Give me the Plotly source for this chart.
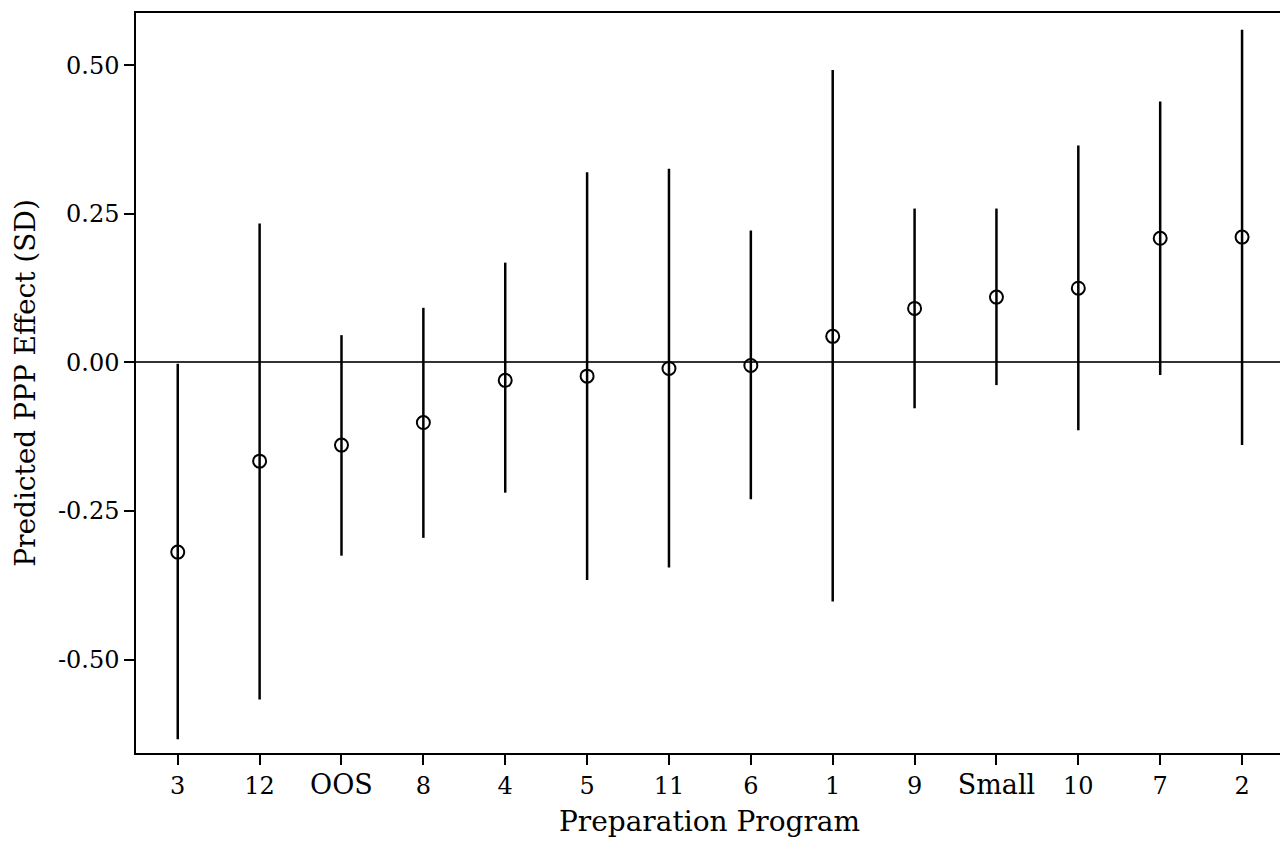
import plotly.graph_objects as go

programs = ["3", "12", "OOS", "8", "4", "5", "11", "6", "1", "9", "Small", "10", "7", "2"]
estimate = [-0.319, -0.166, -0.139, -0.101, -0.030, -0.023, -0.010, -0.005, 0.044, 0.091, 0.110, 0.125, 0.209, 0.211]
ci_low = [-0.634, -0.567, -0.325, -0.295, -0.219, -0.366, -0.345, -0.230, -0.402, -0.077, -0.038, -0.114, -0.021, -0.139]
ci_high = [-0.002, 0.234, 0.046, 0.092, 0.168, 0.320, 0.326, 0.222, 0.492, 0.259, 0.259, 0.365, 0.439, 0.560]

y_ticks = [-0.50, -0.25, 0.00, 0.25, 0.50]
y_ticklabels = ["-0.50", "-0.25", "0.00", "0.25", "0.50"]

x_idx = list(range(len(programs)))
err_plus = [h - e for h, e in zip(ci_high, estimate)]
err_minus = [e - l for e, l in zip(estimate, ci_low)]

FONT = "DejaVu Serif"


def tick_label(s):
    # word labels are drawn a bit larger, as in the original (wide serif face)
    if s.isdigit():
        return s
    return f"<span style='font-size:27px'>{s}</span>"


fig = go.Figure()
fig.add_trace(go.Scatter(
    x=x_idx, y=estimate, mode="markers",
    marker=dict(symbol="circle-open", size=13, color="black", line=dict(width=2, color="black")),
    error_y=dict(type="data", symmetric=False, array=err_plus, arrayminus=err_minus,
                 color="black", thickness=2.5, width=0),
    showlegend=False, hoverinfo="skip",
))

fig.update_layout(
    width=1280, height=838,
    margin=dict(l=128, r=5, t=3, b=93),
    paper_bgcolor="white", plot_bgcolor="white",
    font=dict(family=FONT, size=24, color="black"),
)
fig.update_xaxes(
    range=[-0.51, 13.5], tickmode="array", tickvals=x_idx,
    ticktext=[tick_label(p) for p in programs],
    showgrid=False, zeroline=False, showline=True, linecolor="black", linewidth=1.5, mirror=True,
    ticks="outside", ticklen=10, tickwidth=1.5, tickcolor="black",
    title=dict(text="Preparation Program", font=dict(family=FONT, size=28), standoff=13),
)
fig.update_yaxes(
    range=[-0.657, 0.588], tickmode="array", tickvals=y_ticks, ticktext=y_ticklabels,
    showgrid=False, zeroline=True, zerolinecolor="#333333", zerolinewidth=1.5,
    showline=True, linecolor="black", linewidth=1.5, mirror=True,
    ticks="outside", ticklen=10, tickwidth=1.5, tickcolor="black",
    title=dict(text="Predicted PPP Effect (SD)", font=dict(family=FONT, size=28), standoff=14),
)

fig.write_html("out.html")
